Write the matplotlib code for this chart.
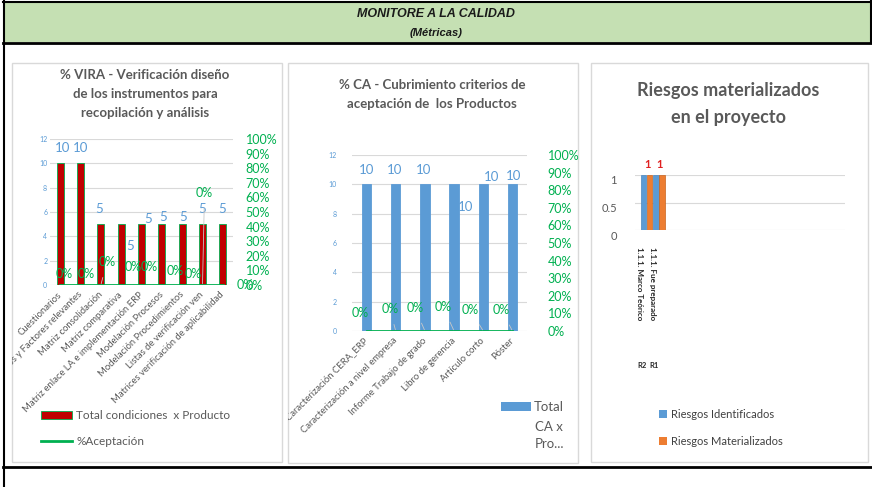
import numpy as np
import matplotlib.pyplot as plt
from matplotlib.patches import Rectangle
from matplotlib.lines import Line2D
from matplotlib.transforms import ScaledTranslation, Bbox, TransformedBbox

plt.rcParams['font.family'] = ['Lato', 'DejaVu Sans']

# % VIRA
vira_productos = ["Cuestionarios", "Criterios y Factores relevantes", "Matriz consolidación",
                  "Matriz comparativa", "Matriz enlace LA e implementación ERP",
                  "Modelación Procesos", "Modelación Procedimientos",
                  "Listas de verificación ven", "Matrices verificación de aplicabilidad"]
vira_condiciones = [10, 10, 5, 5, 5, 5, 5, 5, 5]
vira_aceptacion = [0, 0, 0, 0, 0, 0, 0, 0, 0]

# % CA
ca_productos = ["Caracterización CERA_ERP", "Caracterización a nivel empresa",
                "Informe Trabajo de grado", "Libro de gerencia", "Artículo corto", "Póster"]
ca_criterios = [10, 10, 10, 10, 10, 10]
ca_aceptacion = [0, 0, 0, 0, 0, 0]

# riesgos
riesgos_codigo = ["R2", "R1"]
riesgos_nombre = ["1.1.1. Marco Teórico", "1.1.1. Fue preparado"]
riesgos_identificados = [1, 1]
riesgos_materializados = [1, 1]

W, H = 872, 487
GRAY = '#595959'
GRID = '#D9D9D9'
BLUE = '#5B9BD5'
GREEN = '#00B050'
RED = '#C00000'
ORANGE = '#ED7D31'


def px_box(x0, y0, x1, y1):
    return [x0 / W, 1 - y1 / H, (x1 - x0) / W, (y1 - y0) / H]


def fx(x):
    return x / W


def fy(y):
    return 1 - y / H


fig = plt.figure(figsize=(W / 100, H / 100), dpi=100)
fig.patch.set_facecolor('white')


def hline(y, x0, x1, lw=1.5, color='black'):
    fig.add_artist(Line2D([fx(x0), fx(x1)], [fy(y), fy(y)], transform=fig.transFigure,
                          color=color, lw=lw, zorder=5))


def vline(x, y0, y1, lw=1.5, color='black'):
    fig.add_artist(Line2D([fx(x), fx(x)], [fy(y0), fy(y1)], transform=fig.transFigure,
                          color=color, lw=lw, zorder=5))


# header band
fig.add_artist(Rectangle((fx(4), fy(42)), (870 - 4) / W, 40 / H, transform=fig.transFigure,
                         facecolor='#C5E0B3', edgecolor='none', zorder=-2))
hline(2, 3, 871)
hline(43, 3, 871, lw=2)
vline(3.5, 1, 487)
vline(870.5, 1, 43)
hline(467, 3, 872, lw=2)
fig.text(0.5, fy(14), "MONITORE A LA CALIDAD", ha='center', va='center', fontsize=9,
         fontweight='bold', fontstyle='italic', family='Liberation Sans', color='#1a1a1a')
fig.text(0.5, fy(33), "(Métricas)", ha='center', va='center', fontsize=8,
         fontweight='bold', fontstyle='italic', family='Liberation Sans', color='#1a1a1a')

# panel frames
panels = [(12, 63, 282, 462), (288, 63, 578, 463), (591, 63, 868, 462)]
for x0, y0, x1, y1 in panels:
    fig.add_artist(Rectangle((fx(x0), fy(y1)), (x1 - x0) / W, (y1 - y0) / H,
                             transform=fig.transFigure, facecolor='white',
                             edgecolor=GRID, lw=1, zorder=-1))


def style_axes(ax):
    for s in ax.spines.values():
        s.set_visible(False)
    ax.tick_params(length=0)
    ax.set_facecolor('none')


def combo_chart(box, cats, vals, pcts, color, edge, bar_w, lpad, rpad, xpad,
                val_off, pct_off, clip_panel):
    ax = fig.add_axes(px_box(*box))
    x = np.arange(len(cats))
    ax.bar(x, vals, width=bar_w, color=color, edgecolor=edge, lw=0.6, zorder=2)
    ax.set_xlim(-0.5, len(cats) - 0.5)
    ax.set_ylim(0, 12)
    ax.set_yticks(range(0, 13, 2))
    ax.grid(axis='y', color=GRID, lw=0.8, zorder=0)
    ax.set_axisbelow(True)
    style_axes(ax)
    ax.tick_params(axis='y', labelsize=5, labelcolor=BLUE, pad=lpad)
    ax.set_xticks(x)
    ax.set_xticklabels(cats, rotation=45, ha='right', va='center', rotation_mode='anchor',
                       fontsize=6.8, color=GRAY)
    ax.tick_params(axis='x', pad=xpad)
    x0, y0, x1, y1 = clip_panel
    clip = TransformedBbox(Bbox.from_extents(fx(x0), fy(y1), fx(x1), fy(y0)), fig.transFigure)
    for lbl in ax.get_xticklabels():
        lbl.set_clip_box(clip)
        lbl.set_clip_on(True)
    for i, v in enumerate(vals):
        dx, dy = val_off[i]
        ax.annotate(str(v), xy=(i, v), xytext=(dx, dy), textcoords='offset pixels',
                    ha='center', va='center', fontsize=9.5, color=BLUE, zorder=4)

    axr = ax.twinx()
    axr.plot(x, pcts, color=GREEN, lw=2, zorder=3)
    axr.set_ylim(0, 1)
    axr.set_yticks(np.linspace(0, 1, 11))
    axr.set_yticklabels([f"{int(round(t * 100))}%" for t in np.linspace(0, 1, 11)])
    style_axes(axr)
    axr.tick_params(axis='y', labelsize=9, labelcolor=GREEN, pad=rpad)
    for i, p in enumerate(pcts):
        dx, dy = pct_off[i]
        axr.annotate(f"{int(p * 100)}%", xy=(i, p), xytext=(dx, dy), textcoords='offset pixels',
                     ha='center', va='center', fontsize=9, color=GREEN, zorder=4,
                     arrowprops=dict(arrowstyle='-', color='#C8C8C8', lw=0.6,
                                     shrinkA=5, shrinkB=1) if abs(dy) > 20 else None)
    return ax, axr


# % VIRA chart
fig.text(fx(145), fy(75), "% VIRA - Verificación diseño", ha='center', va='center',
         fontsize=9.5, fontweight='bold', color=GRAY)
fig.text(fx(145), fy(94), "de los instrumentos para", ha='center', va='center',
         fontsize=9.5, fontweight='bold', color=GRAY)
fig.text(fx(145), fy(113), "recopilación y análisis", ha='center', va='center',
         fontsize=9.5, fontweight='bold', color=GRAY)

vira_val_off = [(2, 15), (0, 15), (-2, 15), (9, -22), (7, 5), (1, 7), (1, 7), (0, 15), (-1, 15)]
vira_pct_off = [(4, 11), (6, 11), (6, 23), (12, 18), (8, 18), (13, 14), (11, 11), (2, 92), (22, 0)]
ax1, ax1r = combo_chart((50, 139, 233, 285), vira_productos, vira_condiciones, vira_aceptacion,
                        RED, GREEN, 0.35, 2, 9, 6, vira_val_off, vira_pct_off, panels[0])
h_bar = Rectangle((0, 0), 1, 1, facecolor=RED, edgecolor=GREEN, lw=0.6)
h_line = Line2D([0], [1], color=GREEN, lw=2)
ax1.legend([h_bar, h_line], ["Total condiciones  x Producto", "%Aceptación"],
           loc='upper left', bbox_to_anchor=(fx(41), fy(410)), bbox_transform=fig.transFigure,
           frameon=False, fontsize=8.5, handlelength=2.6, handletextpad=0.4,
           labelspacing=1.3, borderpad=0, borderaxespad=0, labelcolor=GRAY)

# % CA chart
fig.text(fx(432), fy(85), "% CA - Cubrimiento criterios de", ha='center', va='center',
         fontsize=9.5, fontweight='bold', color=GRAY)
fig.text(fx(432), fy(104), "aceptación de  los Productos", ha='center', va='center',
         fontsize=9.5, fontweight='bold', color=GRAY)

ca_val_off = [(0, 14), (-1, 14), (-1, 14), (11, -23), (8, 7), (1, 8)]
ca_pct_off = [(-6, 18), (-6, 22), (-10, 23), (-11, 24), (-13, 21), (-11, 21)]
ax2, ax2r = combo_chart((352, 155, 527, 331), ca_productos, ca_criterios, ca_aceptacion,
                        BLUE, BLUE, 0.32, 11, 15, 6, ca_val_off, ca_pct_off, panels[1])
h_ca = Rectangle((0, 0), 1, 1, facecolor=BLUE, edgecolor='none')
ax2.legend([h_ca], ["Total"], loc='upper left', bbox_to_anchor=(fx(501), fy(401)),
           bbox_transform=fig.transFigure, frameon=False, fontsize=9.5, handlelength=2.3,
           handletextpad=0.2, borderpad=0, borderaxespad=0, labelcolor=GRAY)
fig.text(fx(535), fy(427), "CA x", ha='left', va='center', fontsize=9.5, color=GRAY)
fig.text(fx(535), fy(444), "Pro...", ha='left', va='center', fontsize=9.5, color=GRAY)

# riesgos chart
fig.text(fx(728), fy(91), "Riesgos materializados", ha='center', va='center',
         fontsize=13, fontweight='bold', color=GRAY)
fig.text(fx(728), fy(118), "en el proyecto", ha='center', va='center',
         fontsize=13, fontweight='bold', color=GRAY)

ax3 = fig.add_axes(px_box(635, 175, 845, 230))
xr = np.arange(len(riesgos_codigo))
ax3.bar(xr - 0.24, riesgos_identificados, width=0.46, color=BLUE, edgecolor='#4A86BE',
        lw=0.5, zorder=2)
ax3.bar(xr + 0.24, riesgos_materializados, width=0.46, color=ORANGE, edgecolor='#C9651F',
        lw=0.5, zorder=2)
ax3.set_xlim(-0.92, 15.88)
ax3.set_ylim(0, 1)
ax3.set_yticks([0, 0.5, 1])
ax3.set_yticklabels(["0", "0.5", "1"])
ax3.grid(axis='y', color=GRID, lw=0.8, zorder=0)
ax3.set_axisbelow(True)
style_axes(ax3)
ax3.tick_params(axis='y', labelsize=8, labelcolor=GRAY, pad=13)
for lbl in ax3.get_yticklabels():
    lbl.set_transform(lbl.get_transform() + ScaledTranslation(0, -0.05, fig.dpi_scale_trans))
ax3.set_xticks(xr)
ax3.set_xticklabels(riesgos_nombre, rotation=270, ha='center', va='top', fontsize=5.8,
                    color='#262626', fontweight='bold')
ax3.tick_params(axis='x', pad=12)
for lbl in ax3.get_xticklabels():
    lbl.set_transform(lbl.get_transform() + ScaledTranslation(-0.07, 0, fig.dpi_scale_trans))
for i, code in enumerate(riesgos_codigo):
    ax3.annotate(code, xy=(i, 0), xycoords=ax3.get_xaxis_transform(), xytext=(-5, -135),
                 textcoords='offset pixels', ha='center', va='center', fontsize=5.5,
                 fontweight='bold', color='#262626')
for i, v in enumerate(riesgos_materializados):
    ax3.annotate(str(v), xy=(i + 0.24, v), xytext=(-2, 10), textcoords='offset pixels',
                 ha='center', va='center', fontsize=8, fontweight='bold', color='#E02020')

h_id = Rectangle((0, 0), 1, 1, facecolor=BLUE, edgecolor='none')
h_mat = Rectangle((0, 0), 1, 1, facecolor=ORANGE, edgecolor='none')
ax3.legend([h_id, h_mat], ["Riesgos Identificados", "Riesgos Materializados"],
           loc='upper left', bbox_to_anchor=(fx(659), fy(409)), bbox_transform=fig.transFigure,
           frameon=False, fontsize=8, handlelength=0.7, handleheight=0.7, handletextpad=0.4,
           labelspacing=1.45, borderpad=0, borderaxespad=0, labelcolor='#404040')

fig.savefig('out.png', dpi=100)
